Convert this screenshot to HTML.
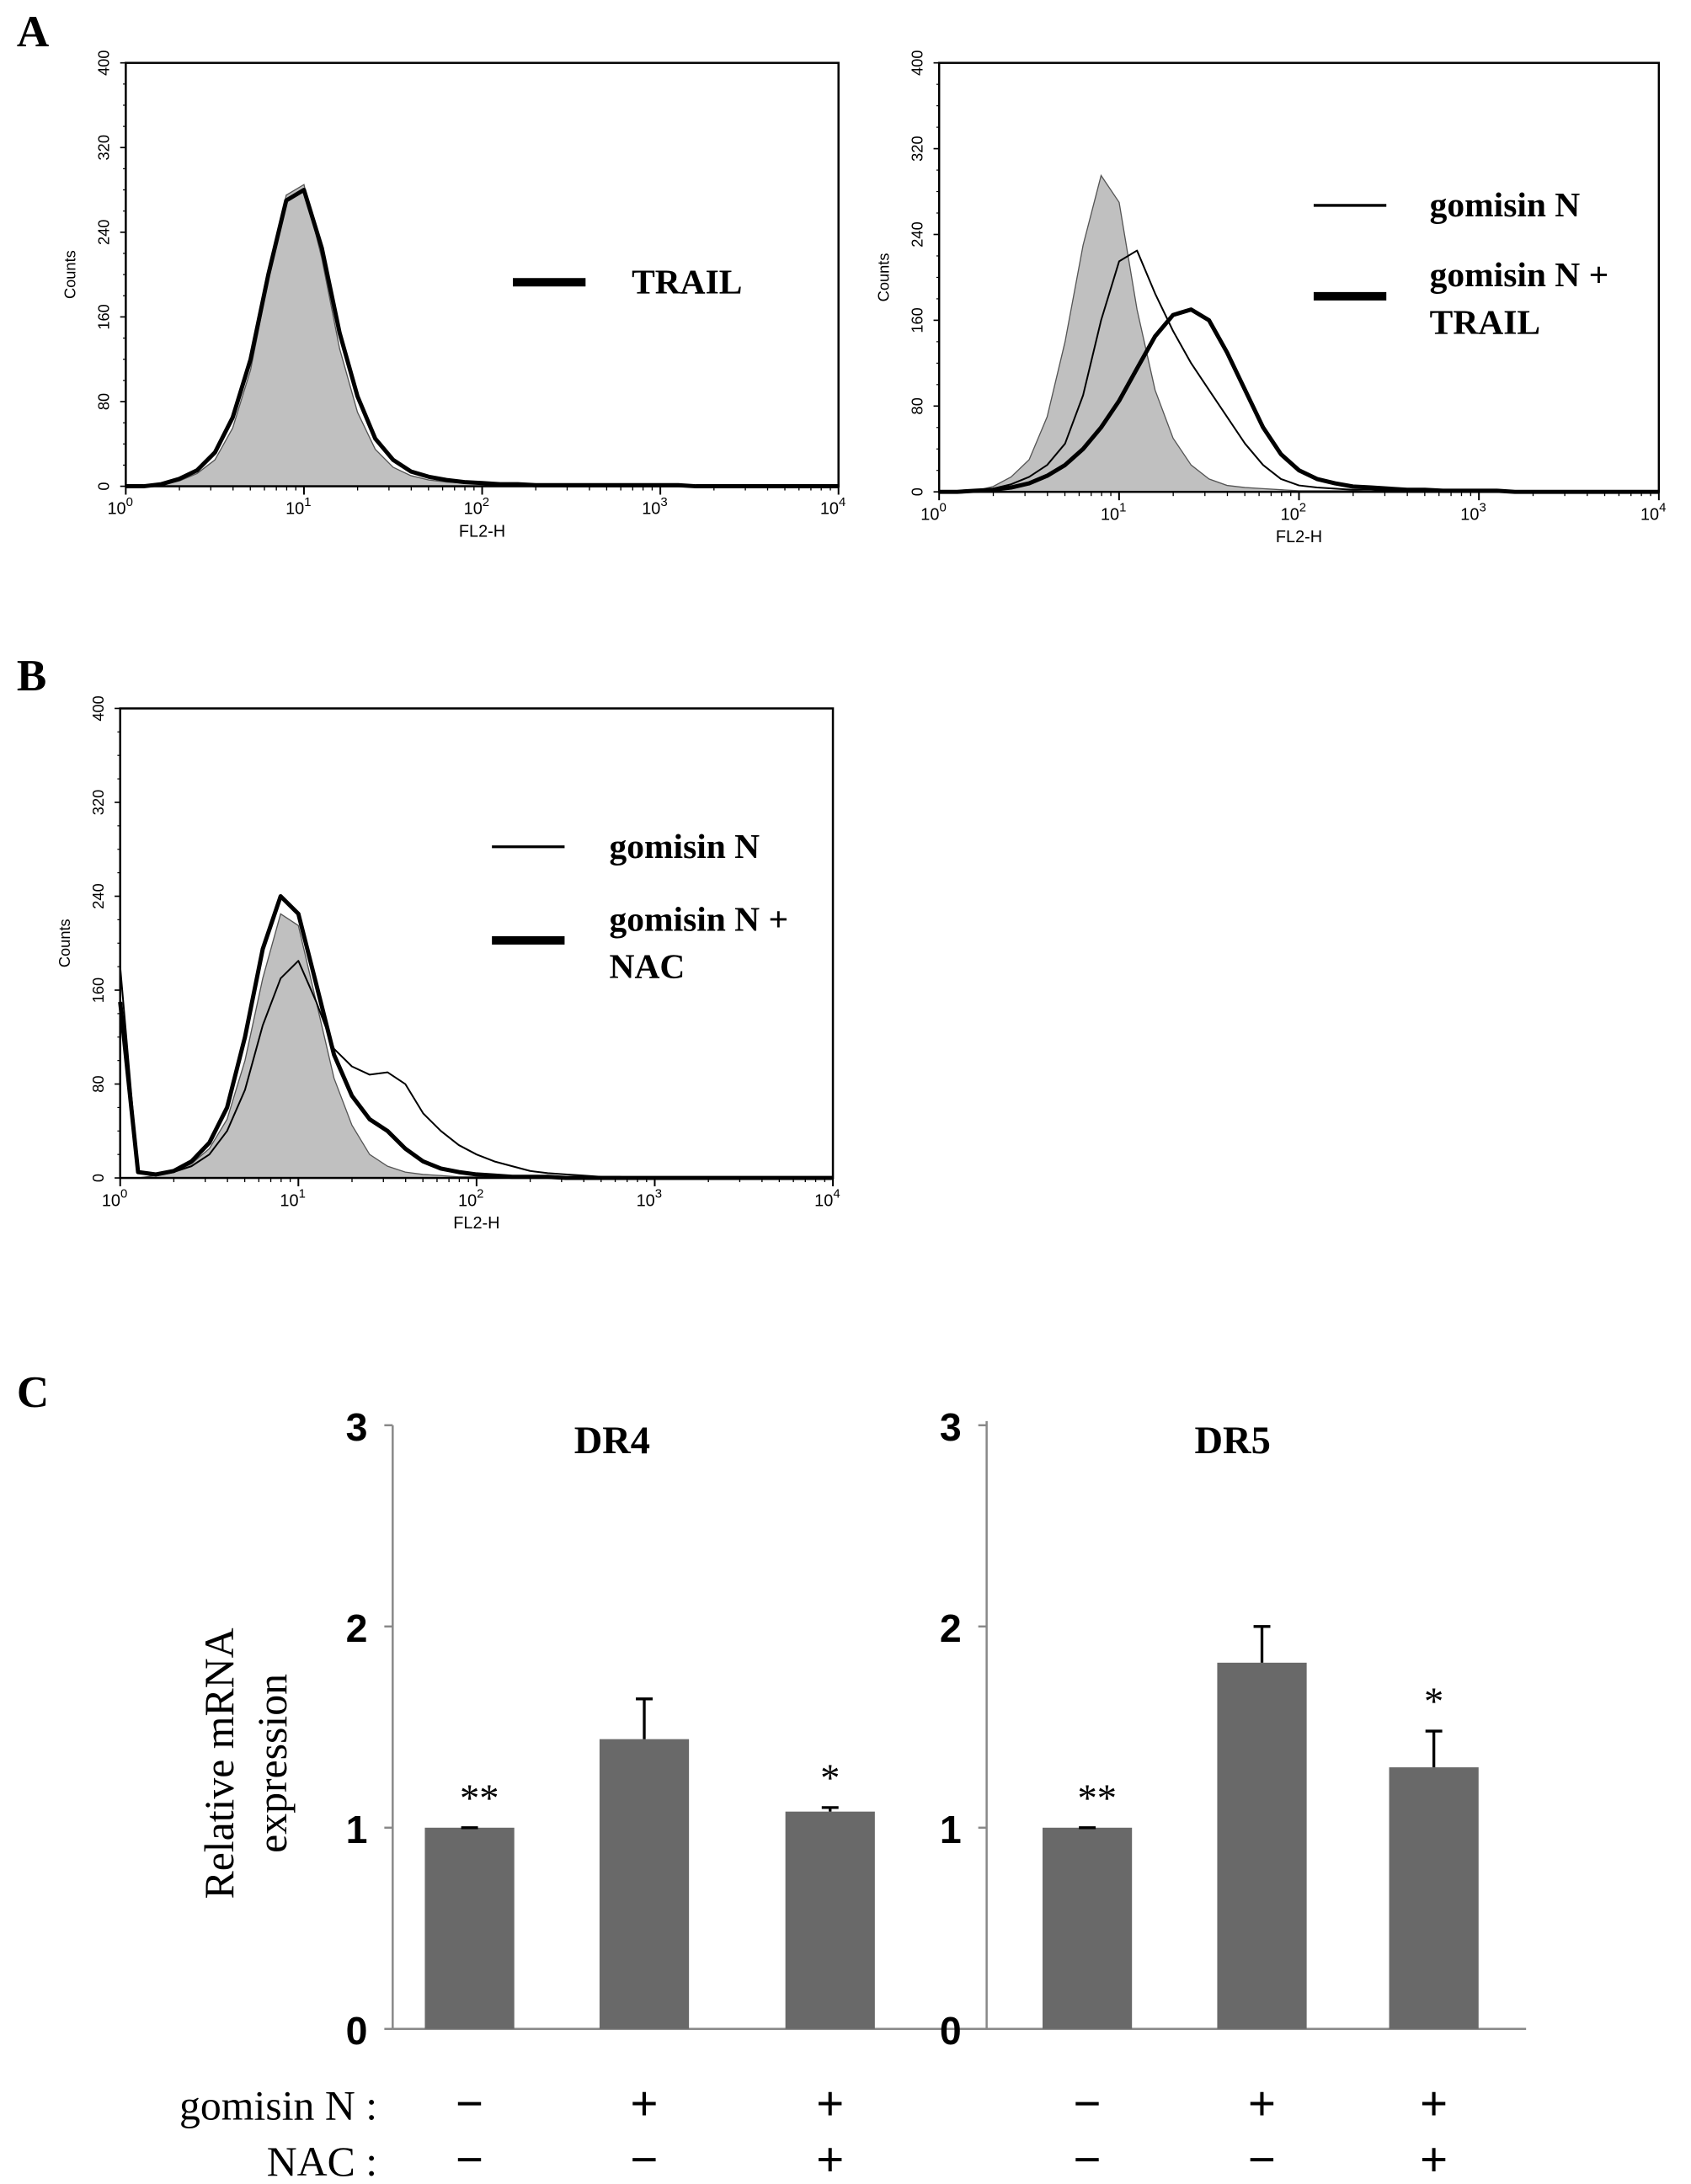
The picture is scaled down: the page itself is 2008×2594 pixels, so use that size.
<!DOCTYPE html>
<html><head><meta charset="utf-8"><style>html,body{margin:0;padding:0;background:#fff}svg{display:block}</style></head>
<body>
<svg id="fig" width="2008" height="2594" viewBox="0 0 1210 1563" preserveAspectRatio="none" xmlns="http://www.w3.org/2000/svg"></svg>
<script>
const histLogX=[0,.1,.2,.3,.4,.5,.6,.7,.8,.9,1,1.1,1.2,1.3,1.4,1.5,1.6,1.7,1.8,1.9,2,2.1,2.2,2.3,2.4,2.5,2.6,2.7,2.8,2.9,3,3.1,3.2,3.3,3.4,3.5,3.6,3.7,3.8,3.9,4];
const aGrey=[0,0,1,5,12,25,55,110,195,275,285,215,130,70,35,18,10,6,4,3,2,2,1,1,1,1,1,1,1,1,0,0,0,0,0,0,0,0,0,0,0];
const aTrail=[0,0,2,7,15,32,65,120,200,270,280,225,145,85,45,25,14,9,6,4,3,2,2,1,1,1,1,1,1,1,1,1,0,0,0,0,0,0,0,0,0];
const a2Grey=[0,0,1,5,14,30,70,140,230,295,270,170,95,50,25,12,6,4,3,2,1,1,1,1,0,0,0,0,0,0,0,0,0,0,0,0,0,0,0,0,0];
const a2Gom=[0,0,1,3,7,14,25,45,90,160,215,225,185,150,120,95,70,45,25,12,6,4,3,2,2,1,1,1,0,0,0,0,0,0,0,0,0,0,0,0,0];
const a2GomTrail=[0,0,1,2,4,8,15,25,40,60,85,115,145,165,170,160,130,95,60,35,20,12,8,5,4,3,2,2,1,1,1,1,0,0,0,0,0,0,0,0,0];
const bGrey=[0,0,2,5,12,25,50,100,170,225,215,150,85,45,20,10,5,3,2,1,1,0,0,0,0,0,0,0,0,0,0,0,0,0,0,0,0,0,0,0,0];
const bGomNac=[150,5,3,6,14,30,60,120,195,240,225,165,105,70,50,40,25,14,8,5,3,2,1,1,1,0,0,0,0,0,0,0,0,0,0,0,0,0,0,0,0];
const bGom=[180,5,2,5,10,20,40,75,130,170,185,150,110,95,88,90,80,55,40,28,20,14,10,6,4,3,2,1,1,0,0,0,0,0,0,0,0,0,0,0,0];
const countTicks=[0,80,160,240,320,400];
const decades=[0,1,2,3,4];
const groups=['gomisin N-/NAC-','gomisin N+/NAC-','gomisin N+/NAC+'];
const dr4Vals=[1.0,1.44,1.08];
const dr4Err=[0.0,0.2,0.02];
const dr4Sig=['**','','*'];
const dr5Vals=[1.0,1.82,1.3];
const dr5Err=[0.0,0.18,0.18];
const dr5Sig=['**','','*'];
const barTicks=[0,1,2,3];
const gomSigns=['−','+','+'];
const nacSigns=['−','−','+'];

const svg=document.getElementById('fig');
const NS='http://www.w3.org/2000/svg';
function el(tag,attrs,parent,text){const e=document.createElementNS(NS,tag);for(const k in attrs)e.setAttribute(k,attrs[k]);if(text!==undefined)e.textContent=text;(parent||svg).appendChild(e);return e;}
const serif='Liberation Serif, serif', sans='Liberation Sans, sans-serif';

function panelLetter(t,x,y){const e=el('text',{x:x,y:y,'font-family':serif,'font-weight':'bold','font-size':32},svg,t);

}
panelLetter('A',12,33);panelLetter('B',12,494);panelLetter('C',12,1007);

function histPanel(name,x0,x1,y0,y1,series,legend){
  const g=el('g',{});
  
  
  const sx=v=>x0+(x1-x0)*v/4, sy=c=>y1-(y1-y0)*c/400;
  series.forEach(s=>{
    let pts=histLogX.map((lx,i)=>sx(lx).toFixed(1)+','+sy(Math.min(s.v[i],400)).toFixed(1));
    if(s.fill){const p=el('polygon',{points:sx(0)+','+sy(0)+' '+pts.join(' ')+' '+sx(4)+','+sy(0),fill:'#c0c0c0',stroke:'#555','stroke-width':0.8},g);
      }
    else{const p=el('polyline',{points:pts.join(' '),fill:'none',stroke:'#000','stroke-width':s.w,'stroke-linejoin':'round'},g);
      }
  });
  const box=el('rect',{x:x0,y:y0,width:x1-x0,height:y1-y0,fill:'none',stroke:'#000','stroke-width':1.5},g);
  
  countTicks.forEach(c=>{const y=sy(c);el('line',{x1:x0-4,x2:x0,y1:y,y2:y,stroke:'#000'},g);
    const t=el('text',{x:x0-12,y:y,'font-family':sans,'font-size':11,'text-anchor':'middle',transform:`rotate(-90 ${x0-12} ${y})`},g,String(c));
    
    for(let k=1;k<4&&c<400;k++){const yy=sy(c+20*k);el('line',{x1:x0-2,x2:x0,y1:yy,y2:yy,stroke:'#000','stroke-width':0.7},g);} });
  const yl=el('text',{x:x0-36,y:(y0+y1)/2,'font-family':sans,'font-size':11,'text-anchor':'middle',transform:`rotate(-90 ${x0-36} ${(y0+y1)/2})`},g,'Counts');
  
  decades.forEach(d=>{const x=sx(d);el('line',{x1:x,x2:x,y1:y1,y2:y1+6,stroke:'#000','stroke-width':1.2},g);
    const t=el('text',{x:x-4,y:y1+20,'font-family':sans,'font-size':12,'text-anchor':'middle'},g);
    
    el('tspan',{},t,'10');el('tspan',{dy:-6,'font-size':9},t,String(d));
    if(d<4)for(let m=2;m<10;m++){const xx=sx(d+Math.log10(m));el('line',{x1:xx,x2:xx,y1:y1,y2:y1+3,stroke:'#000','stroke-width':0.8},g);} });
  const xl=el('text',{x:(x0+x1)/2,y:y1+36,'font-family':sans,'font-size':12,'text-anchor':'middle'},g,'FL2-H');
  
  legend.forEach(L=>{const ln=el('line',{x1:L.lx,x2:L.lx+52,y1:L.ly,y2:L.ly,stroke:'#000','stroke-width':L.w},g);
    
    L.lines.forEach((s,i)=>{const t=el('text',{x:L.tx,y:L.ty+i*34,'font-family':serif,'font-weight':'bold','font-size':25},g,s);
      });});
}
histPanel('histogram-a-trail',90,600,45,348,[{v:aGrey,fill:true,name:'control-fill'},{v:aTrail,w:3,name:'trail-line'}],
  [{lx:367,ly:202,w:6,tx:452,ty:210,lines:['TRAIL']}]);
histPanel('histogram-a-gomisin',672,1187,45,352,[{v:a2Grey,fill:true,name:'control-fill'},{v:a2Gom,w:1.2,name:'gomisin-line'},{v:a2GomTrail,w:3,name:'gomisin-trail-line'}],
  [{lx:940,ly:147,w:2,tx:1023,ty:155,lines:['gomisin N']},{lx:940,ly:212,w:6,tx:1023,ty:205,lines:['gomisin N +','TRAIL']}]);
histPanel('histogram-b-nac',86,596,507,843,[{v:bGrey,fill:true,name:'control-fill'},{v:bGom,w:1.2,name:'gomisin-line'},{v:bGomNac,w:3,name:'gomisin-nac-line'}],
  [{lx:352,ly:606,w:2,tx:436,ty:614,lines:['gomisin N']},{lx:352,ly:673,w:6,tx:436,ty:666,lines:['gomisin N +','NAC']}]);

// bar charts
const y0b=1452, unit=144;
function barChart(name,axisX,top,centers,vals,errs,sigs,title,titleX){
  const g=el('g',{});
  
  
  const sy=v=>y0b-v*unit;
  el('line',{x1:axisX,x2:axisX,y1:top,y2:y0b,stroke:'#888','stroke-width':1.5},g);
  barTicks.forEach(t=>{el('line',{x1:axisX-6,x2:axisX,y1:sy(t),y2:sy(t),stroke:'#888','stroke-width':1.5},g);
    const l=el('text',{x:axisX-18,y:sy(t)+11,'font-family':sans,'font-weight':'bold','font-size':28,'text-anchor':'end'},g,String(t));
    });
  vals.forEach((v,i)=>{const b=el('rect',{x:centers[i]-32,y:sy(v),width:64,height:v*unit,fill:'#696969'},g);
    
    const et=sy(v+errs[i]);
    el('line',{x1:centers[i],x2:centers[i],y1:sy(v),y2:et,stroke:'#000','stroke-width':2},g);
    el('line',{x1:centers[i]-6,x2:centers[i]+6,y1:et,y2:et,stroke:'#000','stroke-width':2},g);
    if(sigs[i]){const s=el('text',{x:centers[i]+(sigs[i].length>1?7:0),y:et-12,'font-family':serif,'font-size':28,'text-anchor':'middle'},g,sigs[i]);
      }});
  const t=el('text',{x:titleX,y:1040,'font-family':serif,'font-weight':'bold','font-size':28,'text-anchor':'middle'},g,title);
  
  return g;
}
const ax=el('line',{x1:281,x2:1092,y1:y0b,y2:y0b,stroke:'#888','stroke-width':1.5});

const c4=[336,461,594], c5=[778,903,1026];
barChart('bar-chart-dr4',281,1020,c4,dr4Vals,dr4Err,dr4Sig,'DR4',438);
barChart('bar-chart-dr5',706,1017,c5,dr5Vals,dr5Err,dr5Sig,'DR5',882);
const yt=el('text',{'font-family':serif,'font-size':30,'text-anchor':'middle',transform:'translate(167 1262) rotate(-90)'},svg,'Relative mRNA');

const yt2=el('text',{'font-family':serif,'font-size':30,'text-anchor':'middle',transform:'translate(205 1262) rotate(-90)'},svg,'expression');

const r1=el('text',{x:270,y:1517,'font-family':serif,'font-size':30,'text-anchor':'end'},svg,'gomisin N :');

const r2=el('text',{x:270,y:1557,'font-family':serif,'font-size':30,'text-anchor':'end'},svg,'NAC :');

c4.concat(c5).forEach((cx,j)=>{const i=j%3;
  const a=el('text',{x:cx,y:1517,'font-family':sans,'font-size':34,'text-anchor':'middle'},svg,gomSigns[i]);
  
  const b=el('text',{x:cx,y:1557,'font-family':sans,'font-size':34,'text-anchor':'middle'},svg,nacSigns[i]);
  });
</script>
</body></html>
